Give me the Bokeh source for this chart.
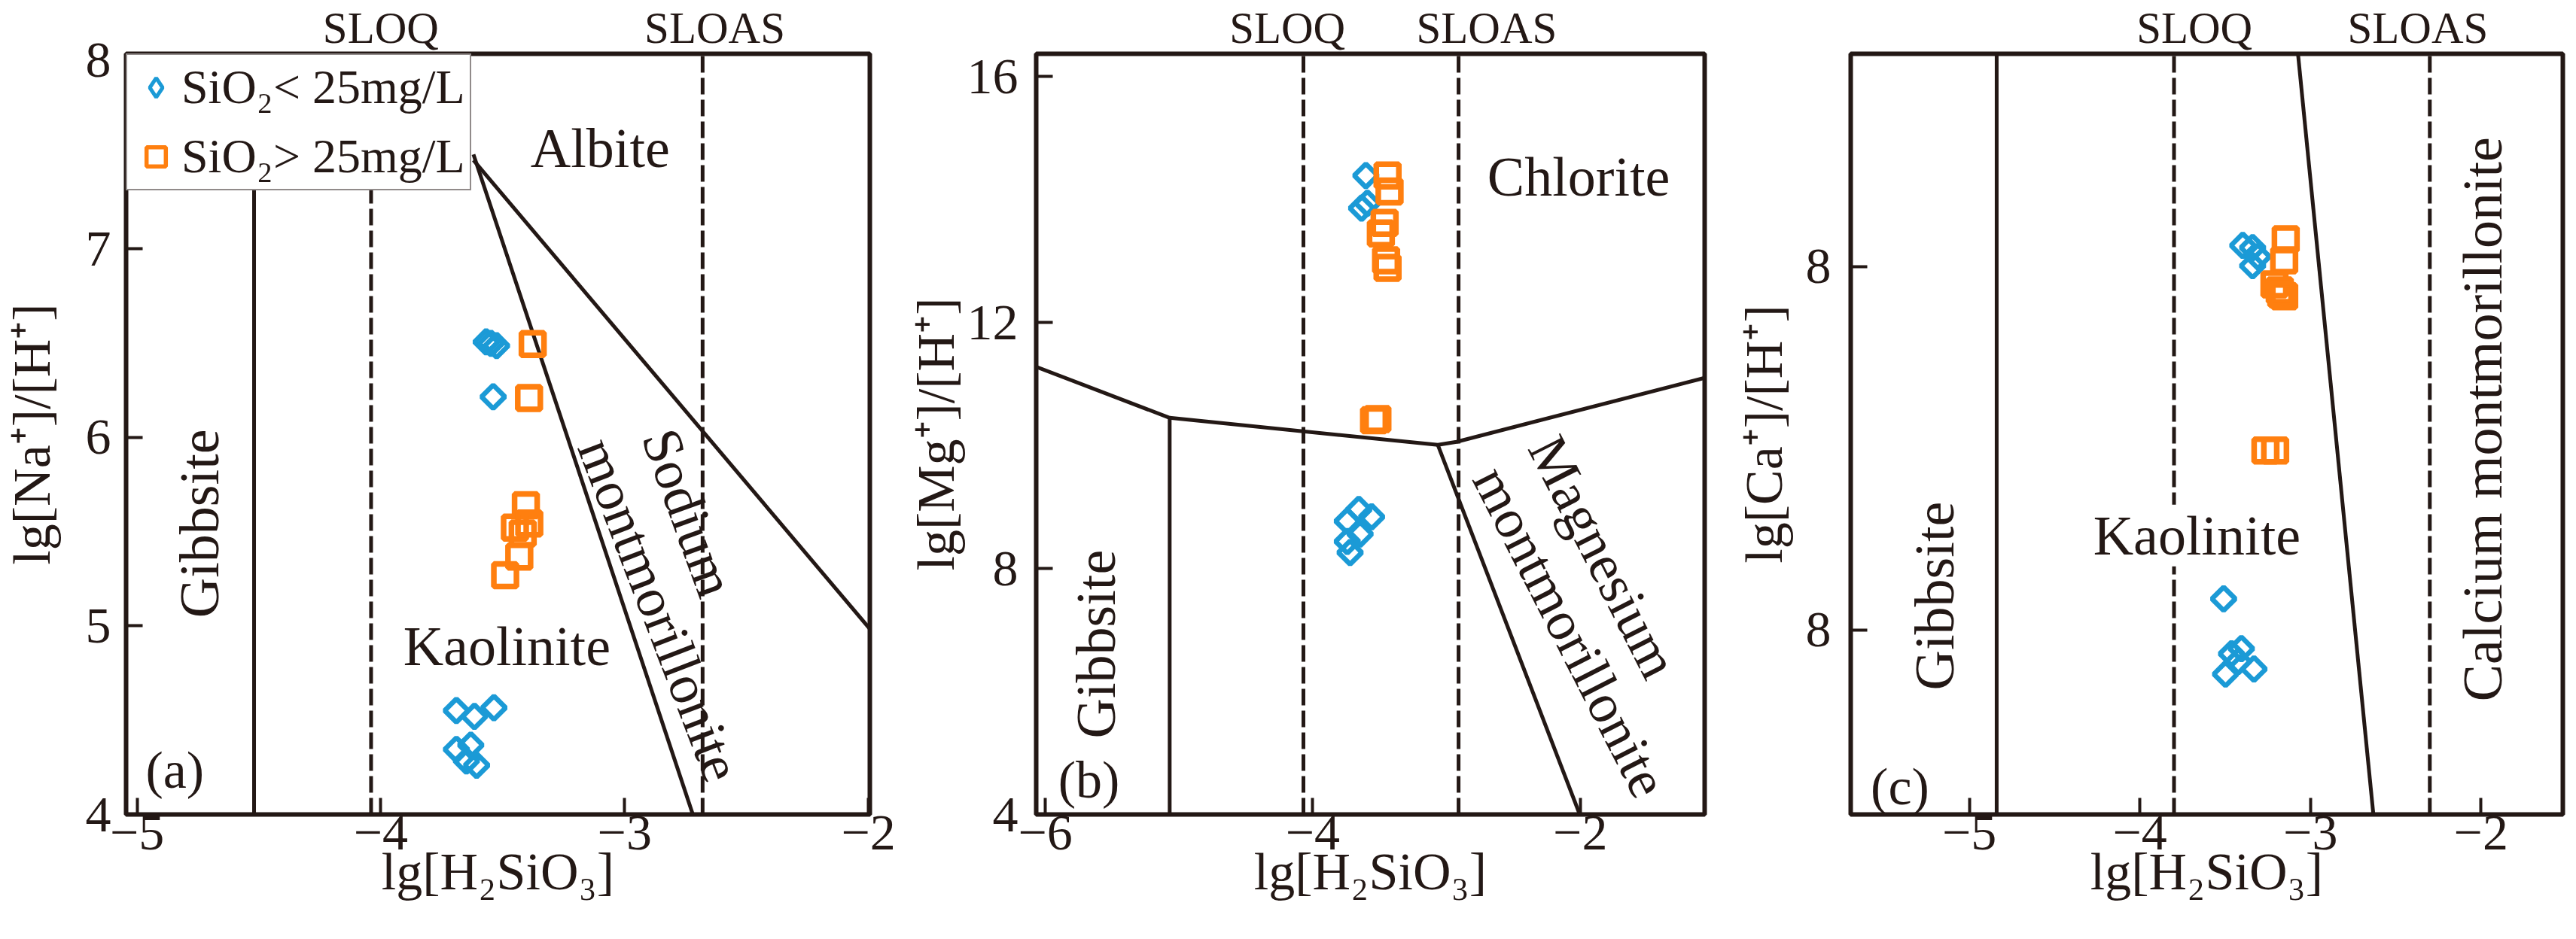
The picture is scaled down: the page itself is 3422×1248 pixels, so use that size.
import numpy as np
from bokeh.plotting import figure
from bokeh.models import (Range1d, FixedTicker, CustomJSTickFormatter, LinearAxis,
                          Label, Legend, LegendItem)
from bokeh.layouts import row
from bokeh.embed import file_html
from bokeh.resources import INLINE
from bokeh.core.properties import value

FONT = "Liberation Serif"
INK = "#231815"
BLUE = "#1b9ad6"
ORANGE = "#ff7f0f"
LW = 5

# ---------------- texts ----------------
x_label = "lg[H₂SiO₃]"
y_labels = ["lg[Na⁺]/[H⁺]", "lg[Mg⁺]/[H⁺]", "lg[Ca⁺]/[H⁺]"]
legend_labels = ["SiO₂< 25mg/L", "SiO₂> 25mg/L"]
line_names = ["SLOQ", "SLOAS"]
panel_tags = ["(a)", "(b)", "(c)"]

# ---------------- panel (a) ----------------
a_xlim = (-5.045, -1.994)
a_ylim = (4.0, 8.034)
a_xticks = [-5, -4, -3, -2]
a_yticks = [4, 5, 6, 7, 8]
a_low_x = [-3.568, -3.548, -3.525, -3.539, -3.690, -3.616, -3.536, -3.690, -3.631, -3.649, -3.607]
a_low_y = [6.506, 6.498, 6.486, 6.215, 4.551, 4.520, 4.566, 4.345, 4.368, 4.284, 4.261]
a_high_x = [-3.377, -3.392, -3.405, -3.450, -3.391, -3.418, -3.432, -3.490]
a_high_y = [6.495, 6.209, 5.640, 5.521, 5.543, 5.490, 5.368, 5.269]
a_gibbsite_x = -4.52
a_sloq_x = -4.04
a_sloas_x = -2.68
a_kao_na_x = [-3.62, -2.72]
a_kao_na_y = [7.50, 4.0]
a_alb_na_x = [-3.62, -1.994]
a_alb_na_y = [7.47, 4.984]
a_name_x = [-4.00, -2.63]

# ---------------- panel (b) ----------------
b_xlim = (-6.068, -1.07)
b_ylim = (4.0, 16.37)
b_xticks = [-6, -4, -2]
b_yticks = [4, 8, 12, 16]
b_low_x = [-3.603, -3.635, -3.592, -3.742, -3.656, -3.560, -3.742, -3.646, -3.721]
b_low_y = [14.39, 13.86, 13.94, 8.77, 8.96, 8.84, 8.44, 8.56, 8.26]
b_high_x = [-3.441, -3.426, -3.463, -3.491, -3.452, -3.441, -3.517, -3.542]
b_high_y = [14.39, 14.13, 13.62, 13.45, 13.01, 12.89, 10.43, 10.41]
b_chl_x = [-6.068, -5.07, -3.065, -2.925, -1.07]
b_chl_y = [11.28, 10.45, 10.01, 10.06, 11.10]
b_gibbsite_x = -5.07
b_gibbsite_top = 10.45
b_mg_x = [-3.065, -2.004]
b_mg_y = [10.01, 4.0]
b_sloq_x = -4.07
b_sloas_x = -2.91
b_name_x = [-4.19, -2.70]

# ---------------- panel (c) ----------------
c_xlim = (-5.696, -1.520)
c_ylim = (7.493, 9.585)
c_xticks = [-5, -4, -3, -2]
c_yticks = [8, 9]
c_low_x = [-3.397, -3.339, -3.308, -3.339, -3.509, -3.498, -3.463, -3.405, -3.331, -3.423]
c_low_y = [9.058, 9.052, 9.027, 9.002, 8.086, 7.879, 7.935, 7.949, 7.893, 7.914]
c_high_x = [-3.145, -3.154, -3.211, -3.180, -3.154, -3.171, -3.264, -3.207]
c_high_y = [9.075, 9.017, 8.951, 8.934, 8.918, 8.924, 8.494, 8.494]
c_gibbsite_x = -4.84
c_sloq_x = -3.80
c_sloas_x = -2.30
c_ca_x = [-3.073, -2.631]
c_ca_y = [9.585, 7.493]
c_name_x = [-3.68, -2.37]

MINUS_CODE = 'return (tick < 0 ? "\u2212" : "") + Math.abs(tick).toFixed(0);'


def base_fig(xlim, ylim, xticks, yticks, ylabel, bl, br, fw, ylab_standoff, ytick_standoff,
             yfmt_code, names_x):
    p = figure(x_range=Range1d(*xlim), y_range=Range1d(*ylim),
               frame_width=fw, frame_height=1011,
               min_border_left=bl, min_border_right=br, min_border_top=68, min_border_bottom=153,
               output_backend="svg", toolbar_location=None)
    p.grid.visible = False
    p.outline_line_color = INK
    p.outline_line_width = 6
    p.background_fill_color = "white"
    p.border_fill_color = "white"
    p.xaxis.ticker = FixedTicker(ticks=xticks)
    p.yaxis.ticker = FixedTicker(ticks=yticks)
    p.xaxis.formatter = CustomJSTickFormatter(code=MINUS_CODE)
    p.yaxis.formatter = CustomJSTickFormatter(code=yfmt_code)
    p.xaxis.axis_label = x_label
    p.yaxis.axis_label = ylabel
    for ax in (p.xaxis[0], p.yaxis[0]):
        ax.axis_line_color = None
        ax.major_tick_in = 22
        ax.major_tick_out = 0
        ax.major_tick_line_color = INK
        ax.major_tick_line_width = 4
        ax.minor_tick_line_color = None
        ax.major_label_text_font = FONT
        ax.major_label_text_font_size = "68px"
        ax.major_label_text_color = INK
        ax.axis_label_text_font = FONT
        ax.axis_label_text_font_size = "70px"
        ax.axis_label_text_font_style = "normal"
        ax.axis_label_text_color = INK
    p.xaxis[0].major_label_standoff = 2
    p.xaxis[0].axis_label_standoff = -12
    p.yaxis[0].major_label_standoff = ytick_standoff
    p.yaxis[0].axis_label_standoff = ylab_standoff
    p.yaxis[0].major_label_orientation = "horizontal"

    top = LinearAxis(ticker=FixedTicker(ticks=names_x),
                     formatter=CustomJSTickFormatter(
                         code='return index == 0 ? "%s" : "%s";' % (line_names[0], line_names[1])),
                     axis_line_color=None, major_tick_line_color=None, minor_tick_line_color=None,
                     major_tick_in=0, major_tick_out=0, major_label_standoff=2,
                     major_label_text_font=FONT, major_label_text_font_size="59px",
                     major_label_text_color=INK)
    p.add_layout(top, "above")
    return p


def vline(p, x, ylim, dashed=False):
    kw = dict(line_color=INK, line_width=LW)
    if dashed:
        kw["line_dash"] = "22 7"
    p.line([x, x], [ylim[0], ylim[1]], **kw)


def points(p, lx, ly, hx, hy):
    p.scatter(lx, ly, marker="square", angle=np.pi / 4, size=22, line_color=BLUE,
              line_width=6.5, fill_color=None)
    p.scatter(hx, hy, marker="square", size=30, line_color=ORANGE,
              line_width=7.5, fill_color=None)


def label(p, x, y, text, size="74px", angle=0.0, bg=None):
    kw = {}
    if bg:
        kw["background_fill_color"] = bg
    p.add_layout(Label(x=x, y=y, text=text, text_font=FONT, text_font_size=size,
                       text_color=INK, text_align="center", text_baseline="middle",
                       angle=angle, **kw))


# ---------------- figure (a) ----------------
p1 = base_fig(a_xlim, a_ylim, a_xticks, a_yticks, y_labels[0], 165, 35, 988, 30, 20,
              'return tick.toFixed(0);', a_name_x)
vline(p1, a_gibbsite_x, a_ylim)
vline(p1, a_sloq_x, a_ylim, dashed=True)
vline(p1, a_sloas_x, a_ylim, dashed=True)
p1.line(a_kao_na_x, a_kao_na_y, line_color=INK, line_width=LW)
p1.line(a_alb_na_x, a_alb_na_y, line_color=INK, line_width=LW)
points(p1, a_low_x, a_low_y, a_high_x, a_high_y)
label(p1, -3.100, 7.534, "Albite")
label(p1, -4.743, 5.543, "Gibbsite", angle=np.pi / 2)
label(p1, -3.483, 4.893, "Kaolinite")
label(p1, -2.738, 5.600, "Sodium", angle=-np.radians(70))
label(p1, -2.857, 5.086, "montmorillonite", angle=-np.radians(69))
label(p1, -4.845, 4.234, panel_tags[0], size="70px")

# legend-only renderers (no visible data): the legend needs a diamond glyph
leg_low = p1.scatter(x=[np.nan], y=[np.nan], marker="diamond", size=20, line_color=BLUE,
                     line_width=5, fill_color=None)
leg_high = p1.scatter(x=[np.nan], y=[np.nan], marker="square", size=20, line_color=ORANGE,
                      line_width=5.5, fill_color=None)
legend = Legend(items=[LegendItem(label=legend_labels[0], renderers=[leg_low]),
                       LegendItem(label=legend_labels[1], renderers=[leg_high])],
                location="top_left", margin=0, padding=6, spacing=18,
                glyph_width=64, glyph_height=64, label_height=64, label_standoff=2,
                label_text_font=FONT, label_text_font_size="64px", label_text_color=INK,
                border_line_color=INK, border_line_width=2,
                background_fill_color="white", background_fill_alpha=1.0)
p1.add_layout(legend)

# ---------------- figure (b) ----------------
p2 = base_fig(b_xlim, b_ylim, b_xticks, b_yticks, y_labels[1], 186, 30, 888, 0, 24,
              'return tick.toFixed(0);', b_name_x)
vline(p2, b_sloq_x, b_ylim, dashed=True)
vline(p2, b_sloas_x, b_ylim, dashed=True)
p2.line([b_gibbsite_x, b_gibbsite_x], [b_ylim[0], b_gibbsite_top], line_color=INK, line_width=LW)
p2.line(b_chl_x, b_chl_y, line_color=INK, line_width=LW)
p2.line(b_mg_x, b_mg_y, line_color=INK, line_width=LW)
points(p2, b_low_x, b_low_y, b_high_x, b_high_y)
label(p2, -2.012, 14.37, "Chlorite")
label(p2, -5.623, 6.77, "Gibbsite", angle=np.pi / 2)
label(p2, -1.826, 8.19, "Magnesium", angle=-np.radians(63))
label(p2, -2.074, 6.97, "montmorillonite", angle=-np.radians(63))
label(p2, -5.674, 4.56, panel_tags[1], size="70px")

# ---------------- figure (c) ----------------
p3 = base_fig(c_xlim, c_ylim, c_xticks, c_yticks, y_labels[2], 164, 4, 946, 14, 26,
              'return "8";', c_name_x)
vline(p3, c_gibbsite_x, c_ylim)
vline(p3, c_sloq_x, c_ylim, dashed=True)
vline(p3, c_sloas_x, c_ylim, dashed=True)
p3.line(c_ca_x, c_ca_y, line_color=INK, line_width=LW)
points(p3, c_low_x, c_low_y, c_high_x, c_high_y)
label(p3, -5.204, 8.094, "Gibbsite", angle=np.pi / 2)
label(p3, -3.666, 8.26, "Kaolinite", bg="white")
label(p3, -1.990, 8.58, "Calcium montmorillonite", angle=np.pi / 2)
label(p3, -5.407, 7.57, panel_tags[2], size="70px")

layout = row(p1, p2, p3)
open("out.html", "w").write(file_html(layout, INLINE))
